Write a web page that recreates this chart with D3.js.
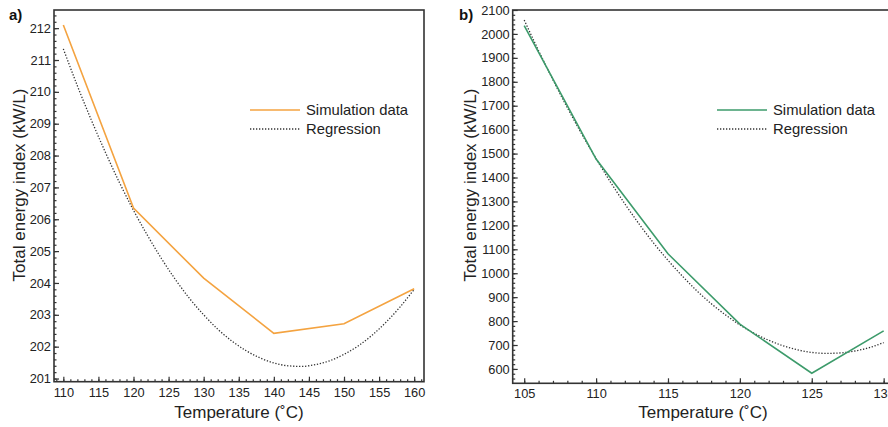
<!DOCTYPE html>
<html>
<head>
<meta charset="utf-8">
<script src="https://cdn.jsdelivr.net/npm/d3@7"></script>
<style>
  body { margin: 0; background: #fff; }
  svg { display: block; font-family: "Liberation Sans", Arial, sans-serif; }
  .domain { display: none; }
  .tick line { stroke: #333; stroke-width: 1.2; }
  .tick text { fill: #222; font-size: 12.8px; }
</style>
</head>
<body>
<div id="chart"></div>
<script>
// Panel a data
const tempA = [110, 120, 130, 140, 150, 160];
const simA = [212.1, 206.35, 204.15, 202.42, 202.72, 203.82];
const regTempA = [110, 112, 114, 116, 118, 120, 122, 124, 126, 128, 130, 132, 134,
    136, 138, 140, 142, 144, 146, 148, 150, 152, 154, 156, 158, 160];
const regA = [211.35, 210.19, 209.11, 208.10, 207.15, 206.28, 205.49, 204.76, 204.10,
    203.51, 203.00, 202.55, 202.18, 201.88, 201.65, 201.49, 201.40, 201.38, 201.44,
    201.56, 201.76, 202.02, 202.36, 202.77, 203.25, 203.80];
const xTicksA = [110, 115, 120, 125, 130, 135, 140, 145, 150, 155, 160];
const yTicksA = [201, 202, 203, 204, 205, 206, 207, 208, 209, 210, 211, 212];

// Panel b data
const tempB = [105, 110, 115, 120, 125, 130];
const simB = [2035, 1477, 1081, 787, 582, 759];
const regTempB = [105, 106, 107, 108, 109, 110, 111, 112, 113, 114, 115, 116, 117,
    118, 119, 120, 121, 122, 123, 124, 125, 126, 127, 128, 129, 130];
const regB = [2058, 1930, 1808, 1692, 1582, 1479, 1381, 1290, 1205, 1126, 1054, 988,
    927, 873, 826, 784, 749, 720, 697, 680, 669, 665, 667, 675, 689, 710];
const xTicksB = [105, 110, 115, 120, 125, 130];
const yTicksB = d3.range(600, 2101, 100);

const legendLabels = ["Simulation data", "Regression"];

const svg = d3.select("#chart").append("svg")
    .attr("width", 888)
    .attr("height", 427);

function drawPanel(opt) {
    const x = d3.scaleLinear().domain(opt.xDomain).range(opt.xRange);
    const y = d3.scaleLinear().domain(opt.yDomain).range(opt.yRange);
    const g = svg.append("g");
    const bottom = opt.yRange[0], top = opt.yRange[1];
    const left = opt.xRange[0], right = opt.xRange[1];

    // minor ticks
    g.append("g")
        .attr("transform", `translate(0,${bottom})`)
        .call(d3.axisBottom(x).tickValues(opt.xMinor).tickSize(-2.5).tickFormat(""));
    g.append("g")
        .attr("transform", `translate(${left},0)`)
        .call(d3.axisLeft(y).tickValues(opt.yMinor).tickSize(-2.5).tickFormat(""));

    // major ticks
    g.append("g")
        .attr("transform", `translate(0,${bottom})`)
        .call(d3.axisBottom(x).tickValues(opt.xTicks).tickSize(-5).tickPadding(6).tickFormat(d3.format("d")));
    g.append("g")
        .attr("transform", `translate(${left},0)`)
        .call(d3.axisLeft(y).tickValues(opt.yTicks).tickSize(-5).tickPadding(3).tickFormat(d3.format("d")));

    // frame
    g.append("rect")
        .attr("x", left).attr("y", top)
        .attr("width", right - left).attr("height", bottom - top)
        .attr("fill", "none").attr("stroke", "#333").attr("stroke-width", 1.6);

    const line = d3.line().x(d => x(d[0])).y(d => y(d[1]));

    g.append("path")
        .datum(opt.regT.map((t, i) => [t, opt.reg[i]]))
        .attr("d", d3.line().curve(d3.curveMonotoneX).x(d => x(d[0])).y(d => y(d[1])))
        .attr("fill", "none").attr("stroke", "#333")
        .attr("stroke-width", 1.3).attr("stroke-dasharray", "1.3,1.7");

    g.append("path")
        .datum(opt.simT.map((t, i) => [t, opt.sim[i]]))
        .attr("d", line)
        .attr("fill", "none").attr("stroke", opt.color).attr("stroke-width", 1.6);

    // legend
    const lg = g.append("g").attr("transform", `translate(${opt.legendX},110)`);
    lg.append("line").attr("x1", 0).attr("x2", 50).attr("y1", 0).attr("y2", 0)
        .attr("stroke", opt.color).attr("stroke-width", 1.6);
    lg.append("line").attr("x1", 0).attr("x2", 50).attr("y1", 19).attr("y2", 19)
        .attr("stroke", "#333").attr("stroke-width", 1.3).attr("stroke-dasharray", "1.3,1.7");
    lg.selectAll("text.leg")
        .data(legendLabels)
        .join("text")
        .attr("class", "leg")
        .attr("x", 56)
        .attr("y", (d, i) => i * 19 + 5)
        .style("font-size", "14.8px")
        .style("fill", "#222")
        .text(d => d);

    // axis titles
    g.append("text")
        .attr("x", opt.xLabelX).attr("y", 418)
        .attr("text-anchor", "middle")
        .style("font-size", "17px").style("fill", "#222")
        .text("Temperature (˚C)");
    g.append("text")
        .attr("transform", `translate(${opt.yLabelX},185) rotate(-90)`)
        .attr("text-anchor", "middle")
        .attr("dy", "0.35em")
        .style("font-size", "17px").style("fill", "#222")
        .text("Total energy index (kW/L)");

    // panel letter
    g.append("text")
        .attr("x", opt.letterX).attr("y", 20)
        .style("font-size", "15px").style("font-weight", "bold").style("fill", "#111")
        .text(opt.letter);
}

drawPanel({
    xDomain: [108.67, 161.4], xRange: [54, 424],
    yDomain: [200.9, 212.57], yRange: [381.7, 10],
    xTicks: xTicksA, yTicks: yTicksA,
    xMinor: d3.range(109, 162, 1), yMinor: d3.range(201, 212.5, 0.2),
    simT: tempA, sim: simA, regT: regTempA, reg: regA,
    color: "#f4a340", legendX: 250,
    xLabelX: 239, yLabelX: 19, letterX: 9, letter: "a)"
});

drawPanel({
    xDomain: [104.2, 130.58], xRange: [512.7, 892],
    yDomain: [540, 2100], yRange: [383.3, 10],
    xTicks: xTicksB, yTicks: yTicksB,
    xMinor: d3.range(105, 131, 1), yMinor: d3.range(560, 2100, 20),
    simT: tempB, sim: simB, regT: regTempB, reg: regB,
    color: "#3d9b6b", legendX: 717,
    xLabelX: 703, yLabelX: 470, letterX: 459, letter: "b)"
});
</script>
</body>
</html>
